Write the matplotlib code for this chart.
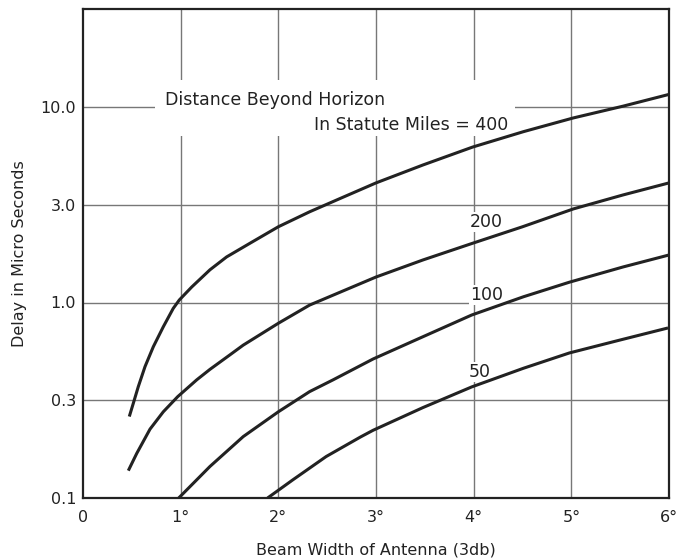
"""Delay vs antenna beam width, log-scale chart with four distance curves."""
import matplotlib
matplotlib.use("Agg")
import matplotlib.pyplot as plt
from matplotlib.patches import Rectangle

# beam width (deg) / delay (microseconds)
bw_400 = [0.474, 0.515, 0.566, 0.635, 0.72, 0.822, 0.924, 0.986, 1.113, 1.30, 1.47, 1.71, 2.0, 2.32,
          2.63, 3.0, 3.48, 3.99, 4.51, 5.02, 5.53, 6.0]
d_400 = [0.261, 0.305, 0.371, 0.470, 0.594, 0.751, 0.933, 1.03, 1.20, 1.47, 1.71, 2.01, 2.44, 2.91,
         3.40, 4.09, 5.05, 6.24, 7.48, 8.79, 10.1, 11.6]

bw_200 = [0.464, 0.55, 0.686, 0.822, 0.97, 1.164, 1.30, 1.505, 1.64, 2.0, 2.32, 3.0, 3.48, 3.99, 4.5,
          5.02, 5.53, 6.0]
d_200 = [0.138, 0.169, 0.225, 0.276, 0.330, 0.402, 0.455, 0.540, 0.605, 0.783, 0.97, 1.35, 1.65, 2.01,
         2.44, 3.01, 3.55, 4.09]

bw_100 = [0.98, 1.30, 1.64, 2.0, 2.32, 2.56, 2.97, 3.48, 3.98, 4.51, 4.98, 5.53, 6.0]
d_100 = [0.1, 0.145, 0.206, 0.276, 0.350, 0.402, 0.514, 0.668, 0.863, 1.07, 1.27, 1.52, 1.75]

bw_50 = [1.89, 2.15, 2.49, 2.84, 2.97, 3.48, 3.98, 4.51, 4.98, 5.50, 5.99]
d_50 = [0.1, 0.124, 0.163, 0.205, 0.222, 0.290, 0.370, 0.461, 0.552, 0.643, 0.741]

x_ticks = [0, 1, 2, 3, 4, 5, 6]
x_labels = ["0", "1°", "2°", "3°", "4°", "5°", "6°"]
# half-decade log paper: grid evenly spaced, labelled 0.3 / 3.0
y_ticks = [0.1, 10 ** -0.5, 1.0, 10 ** 0.5, 10.0]
y_labels = ["0.1", "0.3", "1.0", "3.0", "10.0"]

INK = "#222222"
GRID = "#777777"

fig = plt.figure(figsize=(6.92, 5.58), dpi=100)
ax = fig.add_axes([83 / 692, 1 - 498 / 558, 586 / 692, 488.75 / 558])
ax.set_yscale("log")
ax.set_xlim(0, 6)
ax.set_ylim(0.1, 10 ** 1.5)

for xv in x_ticks[1:-1]:
    ax.axvline(xv, color=GRID, lw=1.0, zorder=1)
for yv in y_ticks[1:]:
    ax.axhline(yv, color=GRID, lw=1.0, zorder=1)

for bw, d in [(bw_400, d_400), (bw_200, d_200), (bw_100, d_100), (bw_50, d_50)]:
    ax.plot(bw, d, color=INK, lw=2.2, solid_capstyle="butt", solid_joinstyle="round", zorder=4)

# white panel behind the caption (breaks the grid like the original)
ax.add_patch(Rectangle((0.74, 7.11), 3.68, 13.7 - 7.11, facecolor="white", edgecolor="none", zorder=2))
ax.text(0.84, 10.2, "Distance Beyond Horizon", fontsize=12.5, color=INK, ha="left", va="baseline", zorder=5)
ax.text(4.35, 7.62, "In Statute Miles = 400", fontsize=12.5, color=INK, ha="right", va="baseline", zorder=5)

lab_box = dict(facecolor="white", edgecolor="none", pad=0.5)
ax.text(4.13, 2.43, "200", fontsize=12.5, color=INK, ha="center", va="baseline", bbox=lab_box, zorder=3)
ax.text(4.13, 1.03, "100", fontsize=12.5, color=INK, ha="center", va="baseline", bbox=lab_box, zorder=3)
ax.text(4.06, 0.416, "50", fontsize=12.5, color=INK, ha="center", va="baseline", bbox=lab_box, zorder=3)

ax.set_xticks(x_ticks)
ax.set_xticklabels(x_labels)
ax.set_yticks(y_ticks)
ax.set_yticklabels(y_labels)
ax.minorticks_off()
ax.tick_params(axis="x", length=0, labelsize=11.5, colors=INK, pad=9)
ax.tick_params(axis="y", length=0, labelsize=11.5, colors=INK, pad=5)
for s in ax.spines.values():
    s.set_color(INK)
    s.set_linewidth(1.6)

ax.set_xlabel("Beam Width of Antenna (3db)", fontsize=11.5, color=INK, labelpad=12)
ax.set_ylabel("Delay in Micro Seconds", fontsize=11.5, color=INK, labelpad=10)

fig.savefig("out.png", dpi=100)
